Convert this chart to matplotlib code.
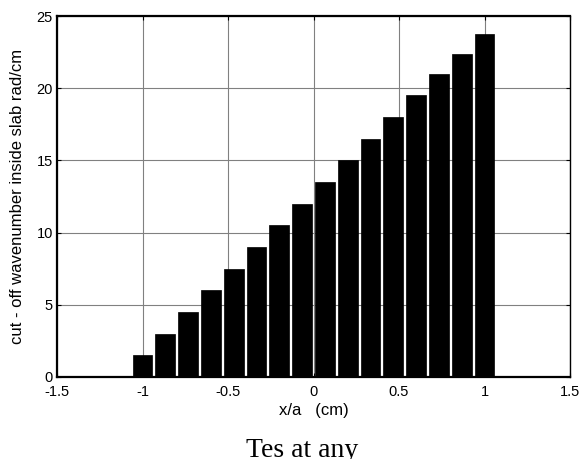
import numpy as np
import matplotlib
matplotlib.use('Agg')
import matplotlib.pyplot as plt

# cut-off wavenumber across the slab, one bar per sample point
x_pos = np.linspace(-1, 1, 16)
kc = [1.5, 3.0, 4.5, 6.0, 7.5, 9.0, 10.5, 12.0, 13.5, 15.0, 16.5, 18.0, 19.5, 21.0, 22.4, 23.75]

x_ticks = [-1.5, -1, -0.5, 0, 0.5, 1, 1.5]
x_ticklabels = ['-1.5', '-1', '-0.5', '0', '0.5', '1', '1.5']
y_ticks = [0, 5, 10, 15, 20, 25]

plt.rcParams['font.family'] = ['Liberation Sans', 'DejaVu Sans']

fig = plt.figure(figsize=(5.8, 4.59), dpi=100)
ax = fig.add_axes([57 / 580, 1 - 377 / 459, 513 / 580, 361 / 459])

step = x_pos[1] - x_pos[0]
ax.bar(x_pos, kc, width=step * 0.86, color='black', edgecolor='black', linewidth=0.5, zorder=3)

ax.set_xlim(-1.5, 1.5)
ax.set_ylim(0, 25)
ax.set_xticks(x_ticks)
ax.set_xticklabels(x_ticklabels)
ax.set_yticks(y_ticks)
ax.grid(True, color='#808080', linewidth=0.8, zorder=0)
ax.set_axisbelow(True)

ax.tick_params(direction='in', length=3, width=0.8, labelsize=10.5,
               top=True, right=True, colors='black')
ax.tick_params(axis='x', pad=6)
ax.tick_params(axis='y', pad=3)
for side in ['left', 'bottom', 'top']:
    ax.spines[side].set_linewidth(1.6)
ax.spines['right'].set_linewidth(1.0)

ax.set_xlabel('x/a   (cm)', fontsize=12, labelpad=3)
ax.set_ylabel('cut - off wavenumber inside slab rad/cm', fontsize=12, labelpad=8)

fig.text(302 / 580, 1 - 457 / 459, 'Tes at any', family=['Liberation Serif', 'DejaVu Serif'],
         fontsize=20, ha='center', va='baseline')

fig.savefig('out.png', dpi=100)
